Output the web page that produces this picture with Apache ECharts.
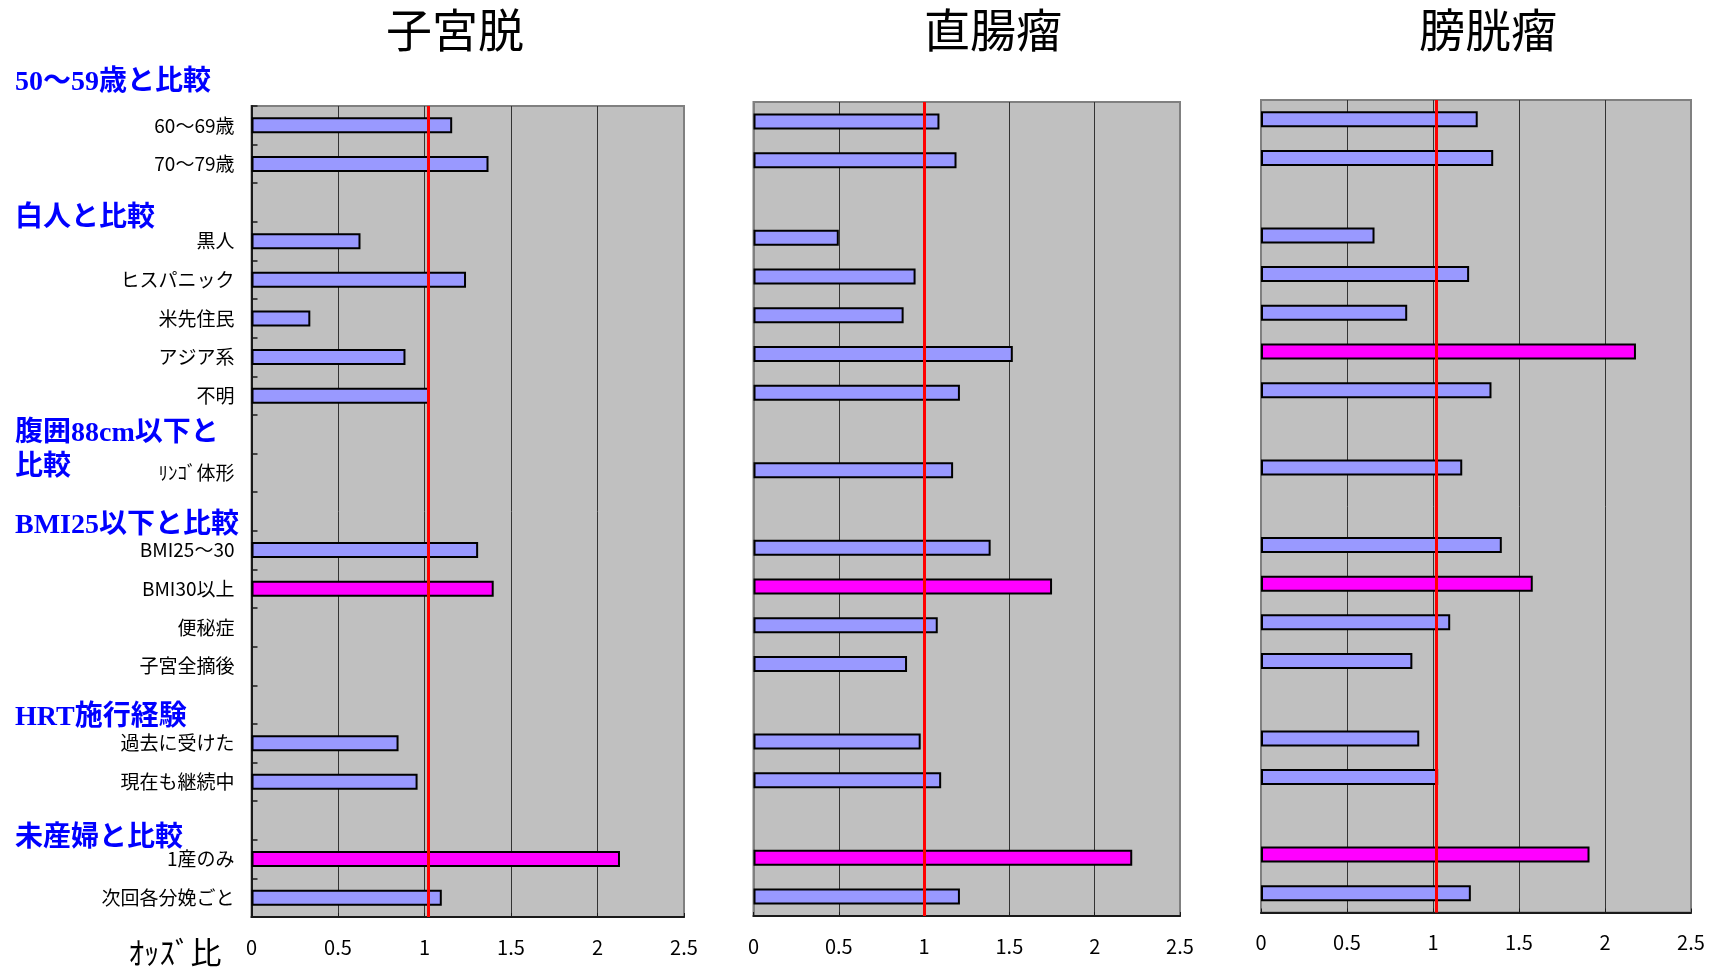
<!DOCTYPE html>
<html>
<head>
<meta charset="utf-8">
<script src="https://cdn.jsdelivr.net/npm/echarts@6/dist/echarts.min.js"></script>
<style>
html,body{margin:0;padding:0;background:#fff;}
#chart{width:1710px;height:968px;}
</style>
</head>
<body>
<div id="chart"></div>
<script>
// ---------------- data ----------------
const categories = ['60〜69歳','70〜79歳','','黒人','ヒスパニック','米先住民','アジア系','不明','','ﾘﾝｺﾞ体形','','BMI25〜30','BMI30以上','便秘症','子宮全摘後','','過去に受けた','現在も継続中','','1産のみ','次回各分娩ごと'];
const panelTitles = ['子宮脱','直腸瘤','膀胱瘤'];
const valuesProlapse  = [1.16, 1.37, null, 0.63, 1.24, 0.34, 0.89, 1.03, null, null, null, 1.31, 1.40, null, null, null, 0.85, 0.96, null, 2.13, 1.10];
const valuesRectocele = [1.09, 1.19, null, 0.50, 0.95, 0.88, 1.52, 1.21, null, 1.17, null, 1.39, 1.75, 1.08, 0.90, null, 0.98, 1.10, null, 2.22, 1.21];
const valuesCystocele = [1.26, 1.35, null, 0.66, 1.21, 0.85, 2.18, 1.34, null, 1.17, null, 1.40, 1.58, 1.10, 0.88, null, 0.92, 1.03, null, 1.91, 1.22];
const significantProlapse  = ['BMI30以上','1産のみ'];
const significantRectocele = ['BMI30以上','1産のみ'];
const significantCystocele = ['アジア系','BMI30以上','1産のみ'];
const referenceOR = [1.02, 1.0, 1.02];
const groupHeaders = ['50〜59歳と比較','白人と比較','腹囲88cm以下と\n比較','BMI25以下と比較','HRT施行経験','未産婦と比較'];
const xTicks = [0, 0.5, 1, 1.5, 2, 2.5];
const xAxisName = 'ｵｯｽﾞ比';

// ---------------- layout ----------------
const panelValues = [valuesProlapse, valuesRectocele, valuesCystocele];
const panelSignificant = [significantProlapse, significantRectocele, significantCystocele];
const grids = [
  {left: 251.5, top: 106, width: 432.5, height: 811},
  {left: 753.5, top: 102, width: 426.5, height: 814},
  {left: 1261,  top: 100, width: 430,   height: 812.5}
];
const titleX = [455, 993, 1488];
const headerY = [83, 219, 451, 526, 718, 839];
const CJK = '"Noto Sans CJK JP", sans-serif';

const chart = echarts.init(document.getElementById('chart'), null, {renderer: 'canvas'});

const xAxes = [], yAxes = [], series = [];
grids.forEach((g, p) => {
  xAxes.push({
    type: 'value', gridIndex: p,
    min: xTicks[0], max: xTicks[xTicks.length - 1], interval: xTicks[1] - xTicks[0],
    axisLine: {show: true, lineStyle: {color: '#1a1a1a', width: 2}},
    axisTick: {show: true, inside: true, length: 4, lineStyle: {color: '#1a1a1a'}},
    axisLabel: {show: true, color: '#000', fontSize: 20, fontFamily: CJK, margin: 20},
    splitLine: {show: true, showMinLine: false, showMaxLine: false, lineStyle: {color: '#333', width: 1}}
  });
  yAxes.push({
    type: 'category', gridIndex: p, data: categories, inverse: true,
    axisLine: {show: true, lineStyle: {color: p === 0 ? '#1a1a1a' : '#808080', width: 2}},
    axisTick: {show: p === 0, inside: true, length: 6, lineStyle: {color: '#1a1a1a', width: 1.5}},
    axisLabel: {show: p === 0, color: '#000', fontSize: 19, fontFamily: CJK, margin: 17},
    splitLine: {show: false}
  });
  const sig = panelSignificant[p];
  series.push({
    type: 'bar', xAxisIndex: p, yAxisIndex: p,
    barWidth: 16,
    data: panelValues[p].map((v, i) => v == null ? '-' : {
      value: v,
      itemStyle: {color: sig.indexOf(categories[i]) >= 0 ? '#ff00ff' : '#9999ff'}
    }),
    itemStyle: {borderColor: '#000', borderWidth: 2},
    markLine: {
      silent: true, symbol: ['none', 'none'], label: {show: false},
      lineStyle: {color: '#ff0000', width: 3, type: 'solid'},
      data: [{xAxis: referenceOR[p]}],
      animation: false
    }
  });
});

const graphics = [];
panelTitles.forEach((t, p) => {
  graphics.push({type: 'text', x: titleX[p], y: 30, style: {
    text: t, fill: '#000', fontSize: 46, fontFamily: CJK, align: 'center', verticalAlign: 'middle'
  }});
});
groupHeaders.forEach((h, k) => {
  graphics.push({type: 'text', x: 15, y: headerY[k], style: {
    text: h, fill: '#0000ff', fontSize: 28, fontWeight: 'bold',
    fontFamily: '"Liberation Serif", "Noto Sans CJK JP", serif',
    align: 'left', verticalAlign: 'middle', lineHeight: 34
  }});
});
graphics.push({type: 'text', x: 175, y: 952, style: {
  text: xAxisName, fill: '#000', fontSize: 31, fontFamily: CJK, align: 'center', verticalAlign: 'middle'
}});

chart.setOption({
  animation: false,
  backgroundColor: '#ffffff',
  grid: grids.map(g => Object.assign({show: true, backgroundColor: '#c0c0c0', borderColor: '#808080', borderWidth: 2, containLabel: false}, g)),
  xAxis: xAxes,
  yAxis: yAxes,
  series: series,
  graphic: graphics
});
</script>
</body>
</html>
